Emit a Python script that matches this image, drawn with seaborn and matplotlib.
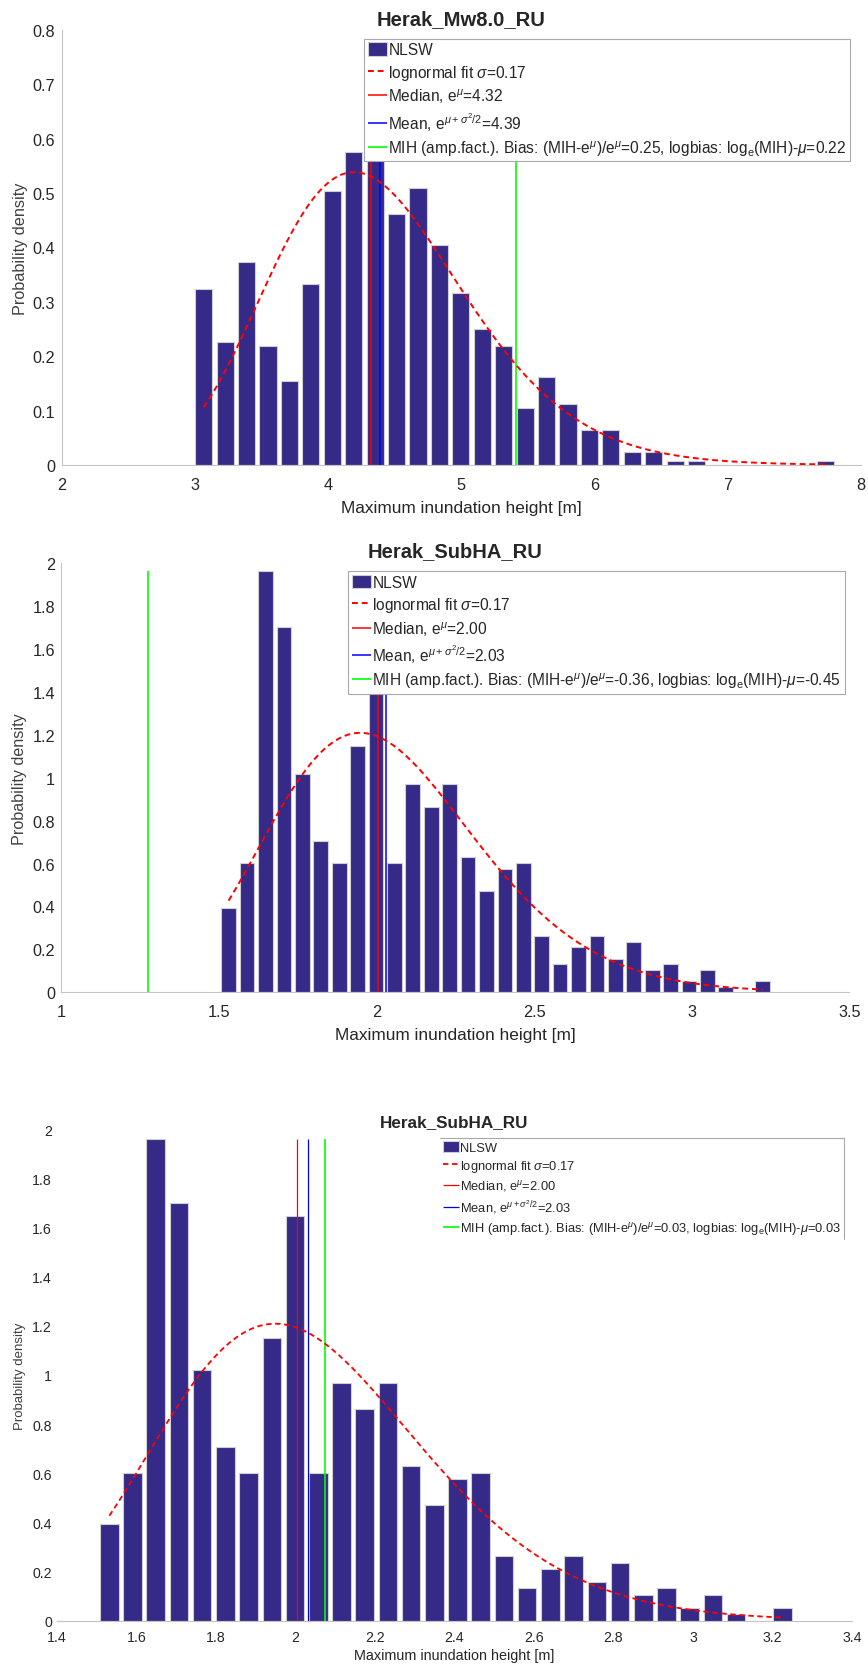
import numpy as np
import pandas as pd
import matplotlib
matplotlib.use("Agg")
import matplotlib.pyplot as plt
import seaborn as sns
from matplotlib.lines import Line2D
from matplotlib.ticker import FuncFormatter, FixedLocator
from matplotlib.transforms import IdentityTransform

# ---------------------------------------------------------------------------
# Herak_Mw8.0_RU : NLSW maximum inundation heights, 30-bin density histogram
# ---------------------------------------------------------------------------
mw80_title = "Herak_Mw8.0_RU"
mw80_bin_range = (2.984, 7.814)
mw80_density = [0.324, 0.227, 0.373, 0.219, 0.154, 0.332, 0.503, 0.575, 0.761, 0.462,
                0.510, 0.405, 0.316, 0.251, 0.219, 0.105, 0.162, 0.113, 0.064, 0.064,
                0.024, 0.024, 0.0075, 0.0075, 0.0, 0.0, 0.0, 0.0, 0.0, 0.0075]
mw80_median = 4.322
mw80_sigma = 0.174
mw80_mih = 5.41
mw80_xticks = [2, 3, 4, 5, 6, 7, 8]
mw80_yticks = [0, 0.1, 0.2, 0.3, 0.4, 0.5, 0.6, 0.7, 0.8]

# ---------------------------------------------------------------------------
# Herak_SubHA_RU : NLSW maximum inundation heights, 30-bin density histogram
# ---------------------------------------------------------------------------
subha_title = "Herak_SubHA_RU"
subha_bin_range = (1.5025, 3.2545)
subha_density = [0.3935, 0.601, 1.961, 1.700, 1.019, 0.706, 0.601, 1.149, 1.649, 0.601,
                 0.969, 0.863, 0.969, 0.630, 0.472, 0.575, 0.601, 0.263, 0.132, 0.210,
                 0.263, 0.156, 0.236, 0.106, 0.132, 0.053, 0.106, 0.027, 0.0, 0.053]
subha_median = 2.004
subha_sigma = 0.167
subha_mih_wide = 1.276
subha_mih_zoom = 2.074
subha_xticks_wide = [1, 1.5, 2, 2.5, 3, 3.5]
subha_xticks_zoom = [1.4, 1.6, 1.8, 2, 2.2, 2.4, 2.6, 2.8, 3, 3.2, 3.4]
subha_yticks = [0, 0.2, 0.4, 0.6, 0.8, 1, 1.2, 1.4, 1.6, 1.8, 2]

XLABEL = "Maximum inundation height [m]"
YLABEL = "Probability density"

# ---------------------------------------------------------------------------
# styling
# ---------------------------------------------------------------------------
BAR_COLOR = "#352A87"
BAR_EDGE = "#cfcfcf"
SPINE = "#c4c4c4"
TICK_TXT = "#262626"
YLAB_TXT = "#404040"
FIT_DASH = (0, (3, 2))

sns.set_style("white")
plt.rcParams["font.family"] = ["Liberation Sans", "DejaVu Sans"]
plt.rcParams["mathtext.fontset"] = "custom"
plt.rcParams["mathtext.rm"] = "Liberation Sans"
plt.rcParams["mathtext.it"] = "Liberation Sans:italic"
plt.rcParams["mathtext.bf"] = "Liberation Sans:bold"

W, H = 868, 1665
fig = plt.figure(figsize=(W / 100, H / 100), dpi=100)
fig.patch.set_facecolor("white")


def legend_labels(median, sigma, mih):
    mu = np.log(median)
    mean = np.exp(mu + sigma ** 2 / 2)
    bias = (mih - median) / median
    logbias = np.log(mih) - mu
    return [
        "NLSW",
        rf"lognormal fit $\sigma$={sigma:.2f}",
        rf"Median, e$^{{\mu}}$={median:.2f}",
        rf"Mean, e$^{{\mu+\sigma^2/2}}$={mean:.2f}",
        rf"MIH (amp.fact.). Bias: (MIH-e$^{{\mu}}$)/e$^{{\mu}}$={bias:.2f}, "
        rf"logbias: log$_{{\mathrm{{e}}}}$(MIH)-$\mu$={logbias:.2f}",
    ]


def draw_panel(box, title, bin_range, density, median, sigma, mih, xlim, xticks,
               ylim, yticks, sty):
    left, right, top, bottom = box
    ax = fig.add_axes([left / W, 1 - bottom / H, (right - left) / W, (bottom - top) / H])
    wpx, hpx = right - left, bottom - top

    density = np.asarray(density, dtype=float)
    edges = np.linspace(bin_range[0], bin_range[1], len(density) + 1)
    centers = (edges[:-1] + edges[1:]) / 2
    hist_df = pd.DataFrame({"height": centers, "density": density})

    # histogram bars (heights are already densities)
    sns.histplot(data=hist_df, x="height", weights="density", bins=edges.tolist(),
                 stat="count", shrink=0.8, color=BAR_COLOR, alpha=1,
                 edgecolor=BAR_EDGE, linewidth=0.8, ax=ax, label="NLSW")

    # lognormal fit evaluated between first and last bin centre
    mu = np.log(median)
    xs = np.linspace(centers[0], centers[-1], 300)
    pdf = np.exp(-(np.log(xs) - mu) ** 2 / (2 * sigma ** 2)) / (xs * sigma * np.sqrt(2 * np.pi))
    sns.lineplot(x=xs, y=pdf, ax=ax, color="red", linestyle=FIT_DASH,
                 linewidth=sty["fit_lw"], legend=False, zorder=4)
    fit_line = ax.lines[-1]

    top_val = density.max()
    mean = np.exp(mu + sigma ** 2 / 2)
    v_med = ax.vlines(median, 0, top_val, color="#ff0000", lw=sty["vlw"], zorder=3)
    v_mean = ax.vlines(mean, 0, top_val, color="#0000ff", lw=sty["vlw"], zorder=3)
    v_mih = ax.vlines(mih, 0, top_val, color="#00ff00", lw=sty["glw"], zorder=3)

    ax.set_xlim(*xlim)
    ax.set_ylim(*ylim)
    ax.xaxis.set_major_locator(FixedLocator(xticks))
    ax.yaxis.set_major_locator(FixedLocator(yticks))
    fmt = FuncFormatter(lambda v, p: f"{v:g}")
    ax.xaxis.set_major_formatter(fmt)
    ax.yaxis.set_major_formatter(fmt)

    sns.despine(ax=ax, left=sty["no_left"])
    for s in ("left", "bottom"):
        ax.spines[s].set_color(SPINE)
        ax.spines[s].set_linewidth(0.8)

    ax.tick_params(axis="both", direction="in", length=sty["ticklen"], width=0.8,
                   color="#a8a8a8", labelcolor=TICK_TXT, labelsize=sty["tick_fs"])
    ax.tick_params(axis="x", pad=sty["xpad"])
    ax.tick_params(axis="y", pad=sty["ypad"])
    # only the end mark of the x axis is drawn
    for t in ax.xaxis.get_major_ticks()[:-1]:
        t.tick1line.set_visible(False)
    if sty["hide_top_ytick"]:
        ax.yaxis.get_major_ticks()[-1].tick1line.set_visible(False)

    ax.set_title(title, fontsize=sty["title_fs"], fontweight="bold", pad=sty["title_pad"])

    ax.set_xlabel(XLABEL, fontsize=sty["xlab_fs"], color=TICK_TXT)
    ax.xaxis.label.set_verticalalignment("baseline")
    ax.xaxis.set_label_coords(0.5, (bottom - sty["xlab_base"]) / hpx)
    ax.set_ylabel(YLABEL, fontsize=sty["ylab_fs"], color=YLAB_TXT)
    ax.yaxis.label.set_verticalalignment("center")
    ax.yaxis.set_label_coords((sty["ylab_x"] - left) / wpx, 0.5)

    bars = ax.containers[0]
    lx, ly = sty["leg_px"]
    leg = ax.legend([bars, fit_line, v_med, v_mean, v_mih],
                    legend_labels(median, sigma, mih),
                    loc="upper left",
                    bbox_to_anchor=((lx - left) / wpx, (bottom - ly) / hpx),
                    borderaxespad=0, fontsize=sty["leg_fs"], handlelength=1.22,
                    handleheight=0.95, handletextpad=0.1, borderpad=0.22,
                    labelspacing=0.33, fancybox=False, framealpha=1,
                    edgecolor="#a8a8a8", frameon=True)
    leg.get_frame().set_linewidth(0.8)
    leg.set_zorder(10)
    if sty["partial_frame"]:
        leg.get_frame().set_edgecolor("none")
    return ax, leg


common_big = dict(vlw=1.1, glw=1.2, fit_lw=1.4, no_left=False, ticklen=5.4, tick_fs=11.7,
                  xlab_fs=12.4, hide_top_ytick=False, leg_fs=11.2, partial_frame=False)

ax1, leg1 = draw_panel((62, 860.7, 31, 466), mw80_title, mw80_bin_range, mw80_density,
                       mw80_median, mw80_sigma, mw80_mih, (2, 8), mw80_xticks,
                       (0, 0.8), mw80_yticks,
                       dict(common_big, title_fs=14.6, title_pad=4.3, xpad=8.6, ypad=5,
                            xlab_base=512.7, ylab_fs=11.7, ylab_x=20.5,
                            leg_px=(364.3, 40)))

ax2, leg2 = draw_panel((61, 849.3, 564, 993.3), subha_title, subha_bin_range, subha_density,
                       subha_median, subha_sigma, subha_mih_wide, (1, 3.5), subha_xticks_wide,
                       (0, 2), subha_yticks,
                       dict(common_big, title_fs=14.5, title_pad=5, xpad=8.4, ypad=4.3,
                            xlab_base=1040, ylab_fs=11.6, ylab_x=20,
                            leg_px=(348.3, 572.3)))

ax3, leg3 = draw_panel((57, 852, 1130.3, 1621.7), subha_title, subha_bin_range, subha_density,
                       subha_median, subha_sigma, subha_mih_zoom, (1.4, 3.4), subha_xticks_zoom,
                       (0, 2), subha_yticks,
                       dict(vlw=0.9, glw=1.2, fit_lw=1.3, no_left=True, ticklen=4, tick_fs=10.2,
                            xlab_fs=10.4, hide_top_ytick=True, leg_fs=9.3, partial_frame=True,
                            title_fs=12.3, title_pad=2.4, xpad=6.5, ypad=3.6,
                            xlab_base=1660, ylab_fs=9.5, ylab_x=20.5,
                            leg_px=(440, 1139)))

# the lower legend only shows its top and right border
fig.canvas.draw()
bb = leg3.get_window_extent()
for xs_, ys_ in (([bb.x0, bb.x1], [bb.y1, bb.y1]), ([bb.x1, bb.x1], [bb.y0, bb.y1])):
    fig.add_artist(Line2D(xs_, ys_, transform=IdentityTransform(), color="#a8a8a8", lw=0.8))

fig.savefig("out.png", dpi=100)
